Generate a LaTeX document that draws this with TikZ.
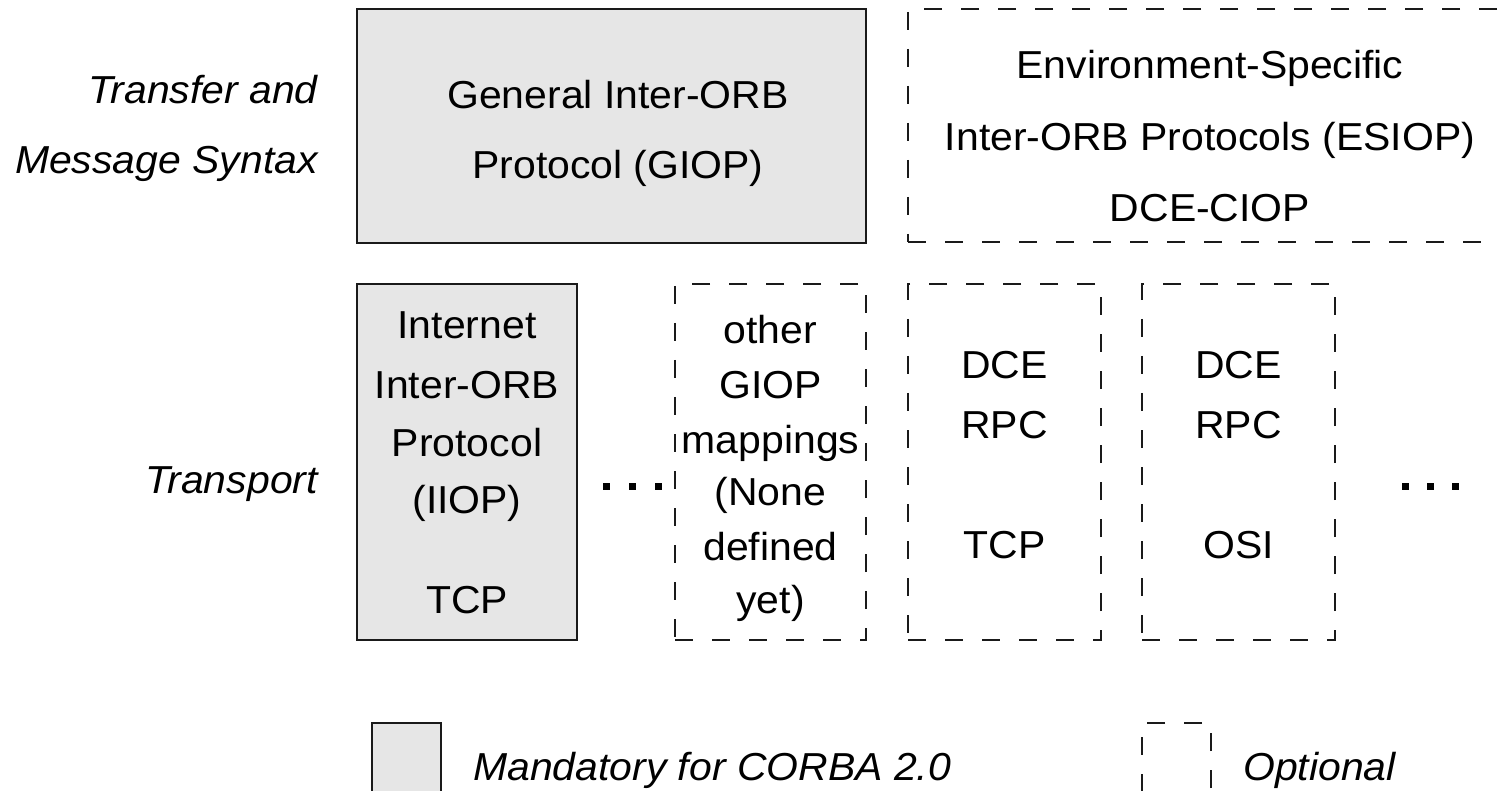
\documentclass[tikz,border=0pt]{standalone}
\usepackage{fontspec}
\setmainfont{Liberation Sans}[FakeStretch=1.05]
\definecolor{mandfill}{HTML}{E6E6E6}
\definecolor{ink}{HTML}{1A1A1A}
\begin{document}
\begin{tikzpicture}[x=1pt,y=-1pt,
  box/.style={rectangle, inner sep=0pt, line width=2.7pt, draw=ink},
  mand/.style={box, fill=mandfill},
  opt/.style={box, dash pattern=on 18pt off 19pt},
  txt/.style={inner sep=0pt, text height=27pt, text depth=0pt,
              font=\fontsize{39}{46}\selectfont},
  side/.style={txt, anchor=east, font=\fontsize{39}{46}\selectfont\itshape},
  legtxt/.style={txt, anchor=west, font=\fontsize{39}{46}\selectfont\itshape},
  dot/.style={fill=black}]
\useasboundingbox (0,0) rectangle (1499,791);
\clip (0,0) rectangle (1499,791);

% row labels
\node[side] (lt1) at (318,90) {Transfer and};
\node[side] (lt2) at (318,160) {Message Syntax};
\node[side] (lt3) at (318,480) {Transport};

% transfer and message syntax layer
\node[mand, minimum width=509pt, minimum height=234pt] (giop) at (611.5,126) {};
\node[txt] (giop1) at (618,95) {General Inter-ORB};
\node[txt] (giop2) at (618,165) {Protocol (GIOP)};

\node[opt, minimum width=622pt, minimum height=233pt] (esiop) at (1219,125.5) {};
\node[txt] (esiop1) at (1210,65) {Environment-Specific};
\node[txt] (esiop2) at (1210,137) {Inter-ORB Protocols (ESIOP)};
\node[txt] (esiop3) at (1210,208) {DCE-CIOP};

% transport layer
\node[mand, minimum width=220pt, minimum height=356pt] (iiop) at (467,462) {};
\foreach \t/\y [count=\i] in {{Internet}/325, {Inter-ORB}/385, {Protocol}/443, {(IIOP)}/500, {TCP}/600}
  \node[txt] (iiop\i) at (467,\y) {\t};

\node[opt, minimum width=191pt, minimum height=356pt] (other) at (770.5,462) {};
\foreach \t/\y [count=\i] in {{other}/330, {GIOP}/385, {mappings}/440, {(None}/492, {defined}/547, {yet)}/600}
  \node[txt] (other\i) at (770.5,\y) {\t};

\node[opt, minimum width=193pt, minimum height=356pt] (dcetcp) at (1004.5,462) {};
\foreach \t/\y [count=\i] in {{DCE}/365, {RPC}/425, {TCP}/545}
  \node[txt] (dcetcp\i) at (1004.5,\y) {\t};

\node[opt, minimum width=193pt, minimum height=356pt] (dceosi) at (1238.5,462) {};
\foreach \t/\y [count=\i] in {{DCE}/365, {RPC}/425, {OSI}/545}
  \node[txt] (dceosi\i) at (1238.5,\y) {\t};

% ellipses between and after the transport boxes
\foreach \x in {603,629,655,1402,1427,1452}
  \fill[dot] (\x,483) rectangle ++(7,7);

% legend
\node[mand, minimum width=69pt, minimum height=70pt] (legm) at (406.5,758) {};
\node[legtxt] (legmt) at (473,767) {Mandatory for CORBA 2.0};
\node[opt, minimum width=69pt, minimum height=70pt] (lego) at (1176.5,758) {};
\node[legtxt] (legot) at (1243,767) {Optional};
\end{tikzpicture}
\end{document}
